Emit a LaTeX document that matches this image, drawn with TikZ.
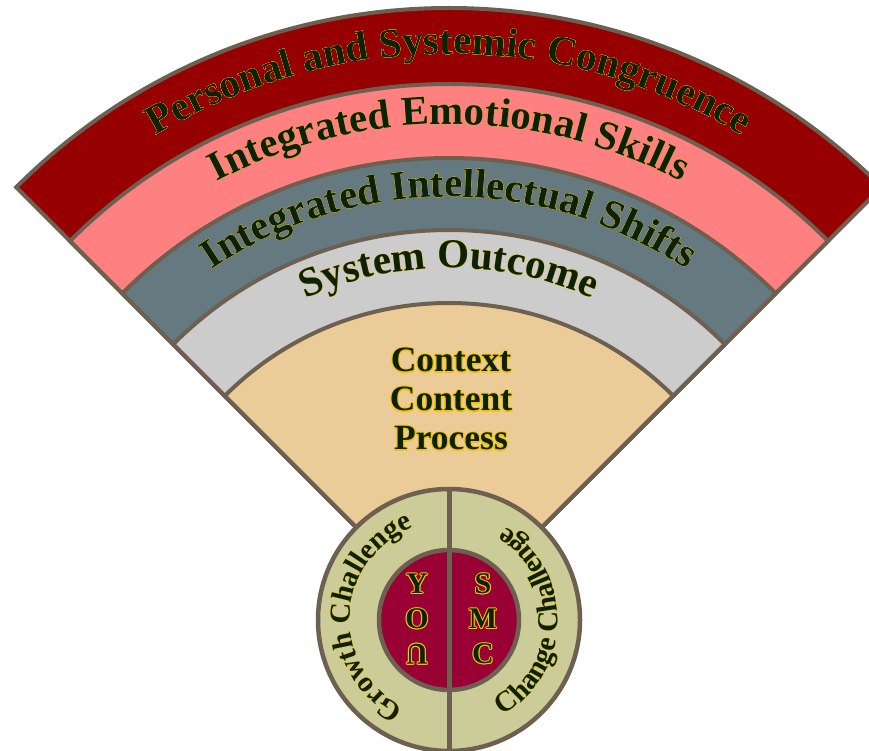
\documentclass[tikz,border=0pt]{standalone}
\usepackage{fontspec}
\setmainfont{Liberation Serif}
\usetikzlibrary{decorations.text,calc}
\definecolor{bord}{HTML}{6E6050}
\definecolor{bandA}{HTML}{960000}
\definecolor{bandB}{HTML}{FF8080}
\definecolor{bandC}{HTML}{647A80}
\definecolor{bandD}{HTML}{CCCCCC}
\definecolor{bandE}{HTML}{EBCB98}
\definecolor{ring}{HTML}{CCCC99}
\definecolor{core}{HTML}{990033}
\definecolor{txt}{HTML}{0B2208}
\definecolor{outl}{HTML}{F5C400}
\newcommand\bandfont{\bfseries\fontsize{41}{49}\selectfont}
\newcommand\ringfont{\bfseries\fontsize{29}{34}\selectfont}
\newcommand\midfont{\bfseries\fontsize{35.5}{42}\selectfont}
\newcommand\corefont{\bfseries\fontsize{30}{36}\selectfont}
% #1 font, #2 radius, #3 start angle, #4 end angle, #5 text
\newcommand\arctext[5]{%
  \foreach \oa in {0,45,...,315}{%
    \path[shift={(\oa:1.1)}, decorate, decoration={text along path, text align=center,
      text={|#1\color{outl}|#5}}] ($(C)+(#3:#2)$) arc[start angle=#3, end angle=#4, radius=#2];
  }
  \path[decorate, decoration={text along path, text align=center,
      text={|#1\color{txt}|#5}}] ($(C)+(#3:#2)$) arc[start angle=#3, end angle=#4, radius=#2];
}
% #1 name, #2 position, #3 options, #4 text
\newcommand\olabel[4]{%
  \foreach \oa in {0,45,...,315}{%
    \node[#3, text=outl, shift={(\oa:1.1)}] at (#2) {#4};
  }
  \node[#3, text=txt] (#1) at (#2) {#4};
}
\tikzset{
  sector/.style={draw=bord, line width=4pt, line join=miter},
  disc/.style={circle, draw=bord, line width=4.5pt, inner sep=0pt},
  divider/.style={draw=bord, line width=5pt},
  midtext/.style={anchor=base, inner sep=0pt, font=\midfont},
  coretext/.style={inner sep=0pt, font=\corefont},
}
\begin{document}
\begin{tikzpicture}[x=1pt, y=1pt]
\useasboundingbox (0,0) rectangle (869,750);
\clip (0,0) rectangle (869,750);
\coordinate (C) at (449,130);
% fan bands
\foreach \r/\c in {612/bandA, 536/bandB, 462/bandC, 390/bandD, 317/bandE}{
  \filldraw[sector, fill=\c] (C) -- ($(C)+(135:\r)$) arc[start angle=135, end angle=45, radius=\r] -- cycle;
}
% band labels
\arctext{\bandfont}{566}{135}{45}{Personal and Systemic Congruence}
\arctext{\bandfont}{496}{135}{45}{Integrated Emotional Skills}
\arctext{\bandfont}{423}{135}{45}{Integrated Intellectual Shifts}
\arctext{\bandfont}{352}{135}{45}{System Outcome}
% centre texts
\olabel{ctx}{451,378}{midtext}{Context}
\olabel{cnt}{451,339}{midtext}{Content}
\olabel{prc}{451,300}{midtext}{Process}
% circles
\node[disc, fill=ring, minimum size=262pt] (outer) at (C) {};
\node[disc, fill=core, minimum size=140pt] (inner) at (C) {};
\draw[divider] (outer.north) -- (outer.south);
% ring labels
\arctext{\ringfont}{99}{266}{88}{Growth Challenge}
\arctext{\ringfont}{109}{-86}{84}{Change Challenge}
% core letters
\olabel{y}{417,166}{coretext}{Y}
\olabel{o}{417,131}{coretext}{O}
\olabel{u}{417,96}{coretext, rotate=180}{U}
\olabel{s}{483,166}{coretext}{S}
\olabel{m}{483,131}{coretext}{M}
\olabel{c}{483,96}{coretext}{C}
\end{tikzpicture}
\end{document}
